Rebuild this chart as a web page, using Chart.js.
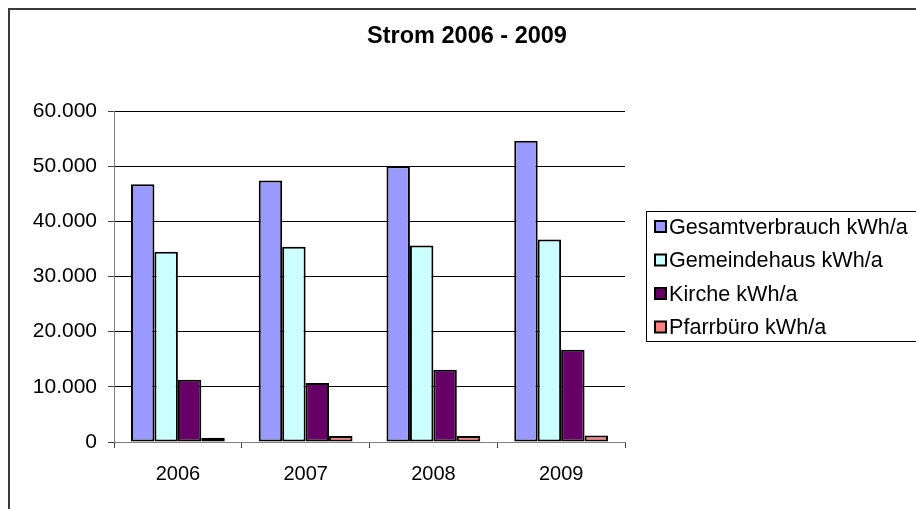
<!DOCTYPE html>
<html>
<head>
<meta charset="utf-8">
<script src="https://cdn.jsdelivr.net/npm/chart.js@4"></script>
<style>
  html, body { margin: 0; padding: 0; background: #fff; }
  #wrap { width: 916px; height: 509px; }
</style>
</head>
<body>
<div id="wrap"><canvas id="chart" width="916" height="509"></canvas></div>
<script>
// Daten
const years = ['2006', '2007', '2008', '2009'];
const gesamt = [46700, 47400, 50000, 54600];
const gemeinde = [34500, 35400, 35600, 36700];
const kirche = [11300, 10700, 13100, 16700];
const pfarrbuero = [750, 1100, 1100, 1200];
const yTicks = [0, 10000, 20000, 30000, 40000, 50000, 60000];

const FONT = "'Liberation Sans', Arial, sans-serif";

// Zahlen mit Tausenderpunkt
function fmt(v) {
  return String(v).replace(/\B(?=(\d{3})+(?!\d))/g, '.');
}

// Rahmen, Titel und Legende im Excel-Stil
const excelFrame = {
  id: 'excelFrame',
  afterDraw(chart) {
    const ctx = chart.ctx;
    ctx.save();
    // Diagrammrahmen
    ctx.strokeStyle = '#3a3a3a';
    ctx.lineWidth = 2;
    ctx.strokeRect(9, 9, 940, 540);

    // Titel
    ctx.fillStyle = '#000';
    ctx.font = "bold 23.5px " + FONT;
    ctx.textAlign = 'center';
    ctx.textBaseline = 'middle';
    ctx.fillText('Strom 2006 - 2009', 467, 37);

    // Legende
    ctx.lineWidth = 1;
    ctx.strokeStyle = '#000';
    ctx.strokeRect(646.5, 211.5, 300, 130);
    ctx.font = "21.6px " + FONT;
    ctx.textAlign = 'left';
    chart.data.datasets.forEach((ds, i) => {
      const y = 227 + i * 33.5;
      ctx.fillStyle = ds.backgroundColor;
      ctx.fillRect(655, y - 6, 11, 11);
      ctx.lineWidth = 2;
      ctx.strokeStyle = '#000';
      ctx.strokeRect(655, y - 6, 11, 11);
      ctx.fillStyle = '#000';
      ctx.fillText(ds.label, 669, y + 1);
    });
    ctx.restore();
  }
};

const barStyle = { borderColor: '#000', borderWidth: 2, borderSkipped: false };

new Chart(document.getElementById('chart').getContext('2d'), {
  type: 'bar',
  data: {
    labels: years,
    datasets: [
      { label: 'Gesamtverbrauch kWh/a', data: gesamt, backgroundColor: '#9999FF', ...barStyle },
      { label: 'Gemeindehaus kWh/a', data: gemeinde, backgroundColor: '#CCFFFF', ...barStyle },
      { label: 'Kirche kWh/a', data: kirche, backgroundColor: '#660066', ...barStyle },
      { label: 'Pfarrbüro kWh/a', data: pfarrbuero, backgroundColor: '#FF8080', ...barStyle }
    ]
  },
  options: {
    responsive: false,
    animation: false,
    devicePixelRatio: 1,
    layout: { padding: { left: 0, top: 111, right: 291, bottom: 0 } },
    datasets: { bar: { categoryPercentage: 0.734, barPercentage: 1 } },
    plugins: {
      legend: { display: false },
      title: { display: false },
      tooltip: { enabled: false }
    },
    scales: {
      x: {
        offset: true,
        afterFit(scale) { scale.height = 67; },
        grid: {
          offset: true,
          drawOnChartArea: false,
          drawTicks: true,
          tickLength: 6,
          tickColor: '#404040'
        },
        border: { color: '#808080', width: 1 },
        ticks: {
          color: '#000',
          padding: 14,
          maxRotation: 0,
          font: { family: FONT, size: 20 }
        }
      },
      y: {
        min: 0,
        max: 60000,
        afterFit(scale) { scale.width = 114; },
        afterBuildTicks(scale) { scale.ticks = yTicks.map(v => ({ value: v })); },
        grid: {
          color: c => (c.tick && c.tick.value === 0 ? '#808080' : '#000'),
          lineWidth: 1,
          drawTicks: true,
          tickLength: 6,
          tickColor: '#404040'
        },
        border: { color: '#808080', width: 1 },
        ticks: {
          color: '#000',
          padding: 11,
          font: { family: FONT, size: 21 },
          callback: v => fmt(v)
        }
      }
    }
  },
  plugins: [excelFrame]
});
</script>
</body>
</html>
